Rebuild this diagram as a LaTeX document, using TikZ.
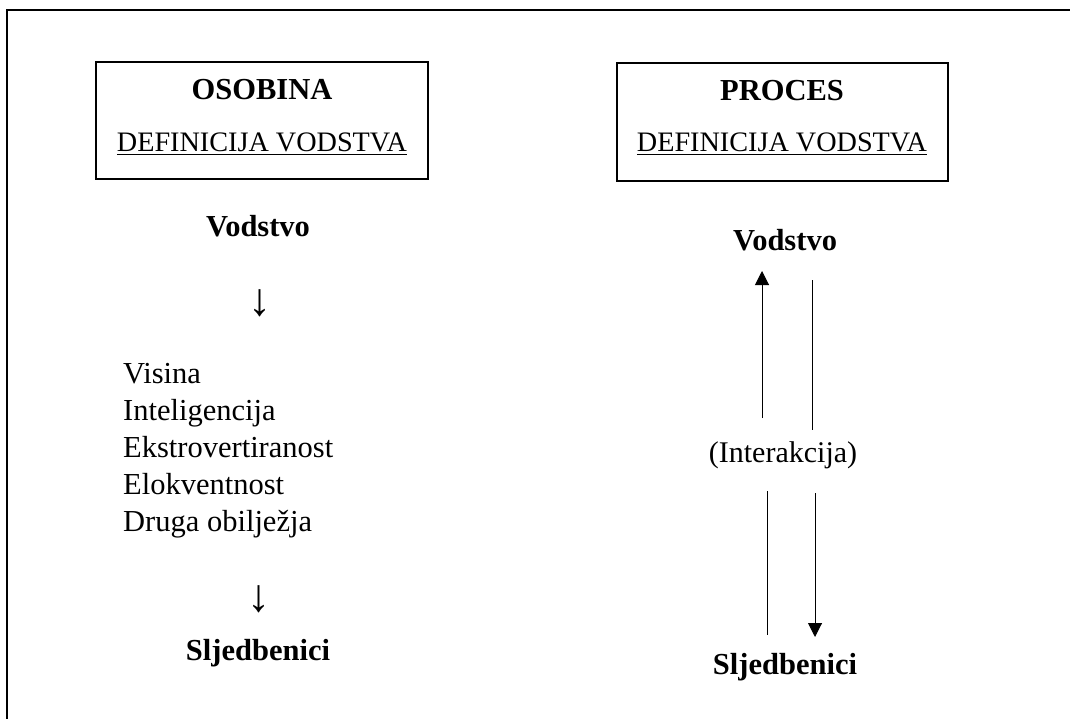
\documentclass[tikz,border=0pt]{standalone}
\usepackage{fontspec}
\setmainfont{Liberation Serif}
\usetikzlibrary{arrows.meta}
\begin{document}
\begin{tikzpicture}[x=1pt,y=-1pt,
  txt/.style={font=\fontsize{30}{36}\selectfont, inner sep=0pt, anchor=base},
  deftxt/.style={txt, font=\fontsize{28.2}{34}\selectfont},
  btxt/.style={txt, font=\fontsize{30.5}{36}\selectfont\bfseries},
  listtxt/.style={font=\fontsize{30.5}{36}\selectfont, inner sep=0pt, anchor=base west},
  glyph/.style={font=\fontsize{46}{50}\selectfont, inner sep=0pt, anchor=center},
  frame/.style={draw, line width=1.8pt},
  titlebox/.style={draw, line width=1.6pt, inner sep=0pt},
  link/.style={line width=1pt},
  linkarrow/.style={line width=1pt, -{Triangle[width=14pt,length=14pt]}}]
\useasboundingbox (0,0) rectangle (1070,719);
% outer frame (only left and top edges visible)
\draw[frame] (7,725) -- (7,10) -- (1075,10);
% title boxes
\node[titlebox, minimum width=332pt, minimum height=117pt] (boxL) at (262,120.5) {};
\node[titlebox, minimum width=331pt, minimum height=118pt] (boxR) at (782.5,122) {};
\node[btxt] (osobina) at (262,100) {OSOBINA};
\node[deftxt] (defL) at (262,152) {\underline{DEFINICIJA VODSTVA}};
\node[btxt] (proces) at (782,101) {PROCES};
\node[deftxt] (defR) at (782,152) {\underline{DEFINICIJA VODSTVA}};
% left column
\node[btxt] (vodL) at (258,237) {Vodstvo};
\node[glyph] (arrL1) at (260,303) {↓};
\node[listtxt] (l1) at (123,383) {Visina};
\node[listtxt] (l2) at (123,420) {Inteligencija};
\node[listtxt] (l3) at (123,457) {Ekstrovertiranost};
\node[listtxt] (l4) at (123,494) {Elokventnost};
\node[listtxt] (l5) at (123,531) {Druga obilježja};
\node[glyph] (arrL2) at (259,599) {↓};
\node[btxt] (sljL) at (258,660) {Sljedbenici};
% right column
\node[btxt] (vodR) at (785,251) {Vodstvo};
\node[txt] (inter) at (783,462) {(Interakcija)};
\node[btxt] (sljR) at (785,674) {Sljedbenici};
\coordinate (upS) at (762,418);
\coordinate (upE) at (762,271);
\coordinate (dnS) at (812,280);
\coordinate (dnE) at (812,430);
\coordinate (lS) at (767,491);
\coordinate (lE) at (767,635);
\coordinate (rS) at (815,493);
\coordinate (rE) at (815,637);
\draw[linkarrow] (upS) -- (upE);
\draw[link] (dnS) -- (dnE);
\draw[link] (lS) -- (lE);
\draw[linkarrow] (rS) -- (rE);
\end{tikzpicture}
\end{document}
